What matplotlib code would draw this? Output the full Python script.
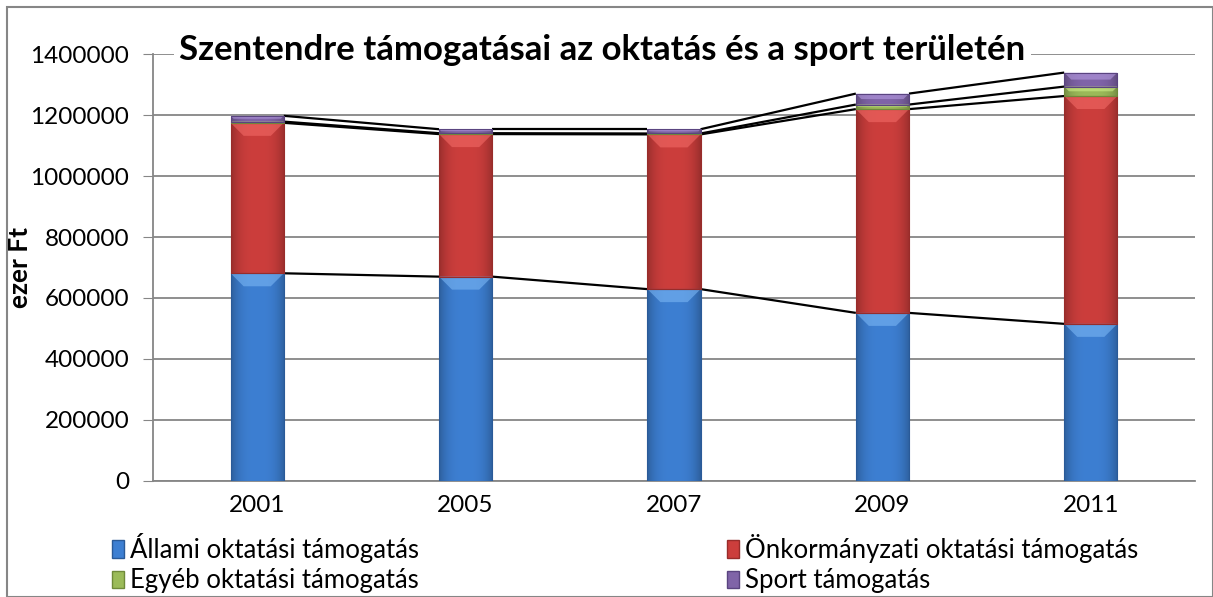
import matplotlib
matplotlib.use("Agg")
import matplotlib.pyplot as plt
import numpy as np
from matplotlib.patches import Patch, Rectangle, Polygon
from matplotlib.colors import to_rgb

years = ["2001", "2005", "2007", "2009", "2011"]
allami = [681000, 670000, 629000, 551000, 515000]
onkorm = [494000, 468000, 508000, 669000, 748000]
egyeb = [4000, 3000, 3000, 15000, 31000]
sport = [19000, 13000, 14000, 36000, 46000]

series = [
    ("Állami oktatási támogatás", allami, "#3d7fd2", "#2a5a98", "#7ab6f4"),
    ("Önkormányzati oktatási támogatás", onkorm, "#cc3e3c", "#982c2a", "#f26a66"),
    ("Egyéb oktatási támogatás", egyeb, "#9bbb59", "#6f8a3a", "#cfee88"),
    ("Sport támogatás", sport, "#8064a8", "#5a4480", "#b49ae0"),
]

yticks = [0, 200000, 400000, 600000, 800000, 1000000, 1200000, 1400000]
title = "Szentendre támogatásai az oktatás és a sport területén"
ylabel = "ezer Ft"

plt.rcParams['font.family'] = ['Lato', 'DejaVu Sans']

W, H = 1213, 597
fig = plt.figure(figsize=(W / 100, H / 100), dpi=100)
ax_left, ax_right, ax_top, ax_bot = 153, 1195, 54.3, 480.7
ax = fig.add_axes([ax_left / W, 1 - ax_bot / H, (ax_right - ax_left) / W, (ax_bot - ax_top) / H])

fig.patches.append(Rectangle((7 / W, 0), 1 - 7 / W, 1 - 7 / H, transform=fig.transFigure,
                             fill=False, edgecolor="#868686", linewidth=1.5))

n = len(years)
x = np.arange(n)
width = 0.255
ymax = 1400000
px_x = (ax_right - ax_left) / n
px_y = (ax_bot - ax_top) / ymax

bottom = np.zeros(n)
tops = []
for name, vals, col, edge, light in series:
    vals = np.array(vals, dtype=float)
    for i in range(n):
        h = vals[i]
        x0 = x[i] - width / 2
        y0 = bottom[i]
        rect = Rectangle((x0, y0), width, h, facecolor=col, edgecolor="none", zorder=3)
        ax.add_patch(rect)
        t = np.linspace(-1, 1, 60)
        f = 1 - 0.25 * np.abs(t) ** 3
        base = np.array(to_rgb(col))
        img = np.clip(base[None, None, :] * f[None, :, None], 0, 1)
        im = ax.imshow(img, extent=(x0, x0 + width, y0, y0 + h), aspect="auto",
                       zorder=3.1, interpolation="bilinear")
        im.set_clip_path(rect)
        bpx = min(h * px_y * 0.5, 13)
        if bpx > 0.5:
            b = bpx / px_y
            d = bpx / px_x
            poly = Polygon([(x0, y0 + h), (x0 + width, y0 + h),
                            (x0 + width - d, y0 + h - b), (x0 + d, y0 + h - b)],
                           closed=True, facecolor=light, edgecolor="none", alpha=0.6, zorder=3.2)
            ax.add_patch(poly)
        ax.add_patch(Rectangle((x0, y0), width, h, fill=False, edgecolor=edge,
                               linewidth=0.8, zorder=3.3))
    bottom = bottom + vals
    tops.append(bottom.copy())

for t in tops:
    for i in range(n - 1):
        ax.plot([x[i] + width / 2, x[i + 1] - width / 2], [t[i], t[i + 1]],
                color="black", linewidth=1.6, zorder=2, solid_capstyle="butt")

ax.set_xlim(-0.5, n - 0.5)
ax.set_ylim(0, ymax)
ax.set_yticks(yticks)
ax.set_yticklabels([str(v) for v in yticks], fontsize=17.5)
ax.set_xticks(x)
ax.set_xticklabels(years, fontsize=17.5)
ax.tick_params(axis="x", length=0, pad=10)
ax.tick_params(axis="y", length=7, color="#868686", pad=10)
ax.grid(axis="y", color="#868686", linewidth=1.3, zorder=0)
for s in ["top", "right"]:
    ax.spines[s].set_visible(False)
for s in ["left", "bottom"]:
    ax.spines[s].set_color("#868686")
    ax.spines[s].set_linewidth(1.3)

fig.text(0.5 * (175 + 1030) / W, 1 - 50 / H, title, fontsize=25, fontweight="bold",
         ha="center", va="center",
         bbox=dict(facecolor="white", edgecolor="none", pad=4), zorder=5)
fig.text(20 / W, 1 - 268 / H, ylabel, rotation=90, fontsize=19, fontweight="bold",
         ha="center", va="center")

handles = [Patch(facecolor=c, edgecolor=e, label=nm) for nm, v, c, e, l in series]
order = [0, 2, 1, 3]
leg = fig.legend([handles[i] for i in order], [series[i][0] for i in order],
                 ncol=2, loc="upper left", bbox_to_anchor=(112 / W, 1 - 533 / H),
                 frameon=False, fontsize=18.5, handlelength=0.45, handleheight=0.65,
                 handletextpad=0.25, columnspacing=12.0, labelspacing=0.2,
                 borderpad=0, borderaxespad=0)

fig.savefig("out.png", dpi=100)
